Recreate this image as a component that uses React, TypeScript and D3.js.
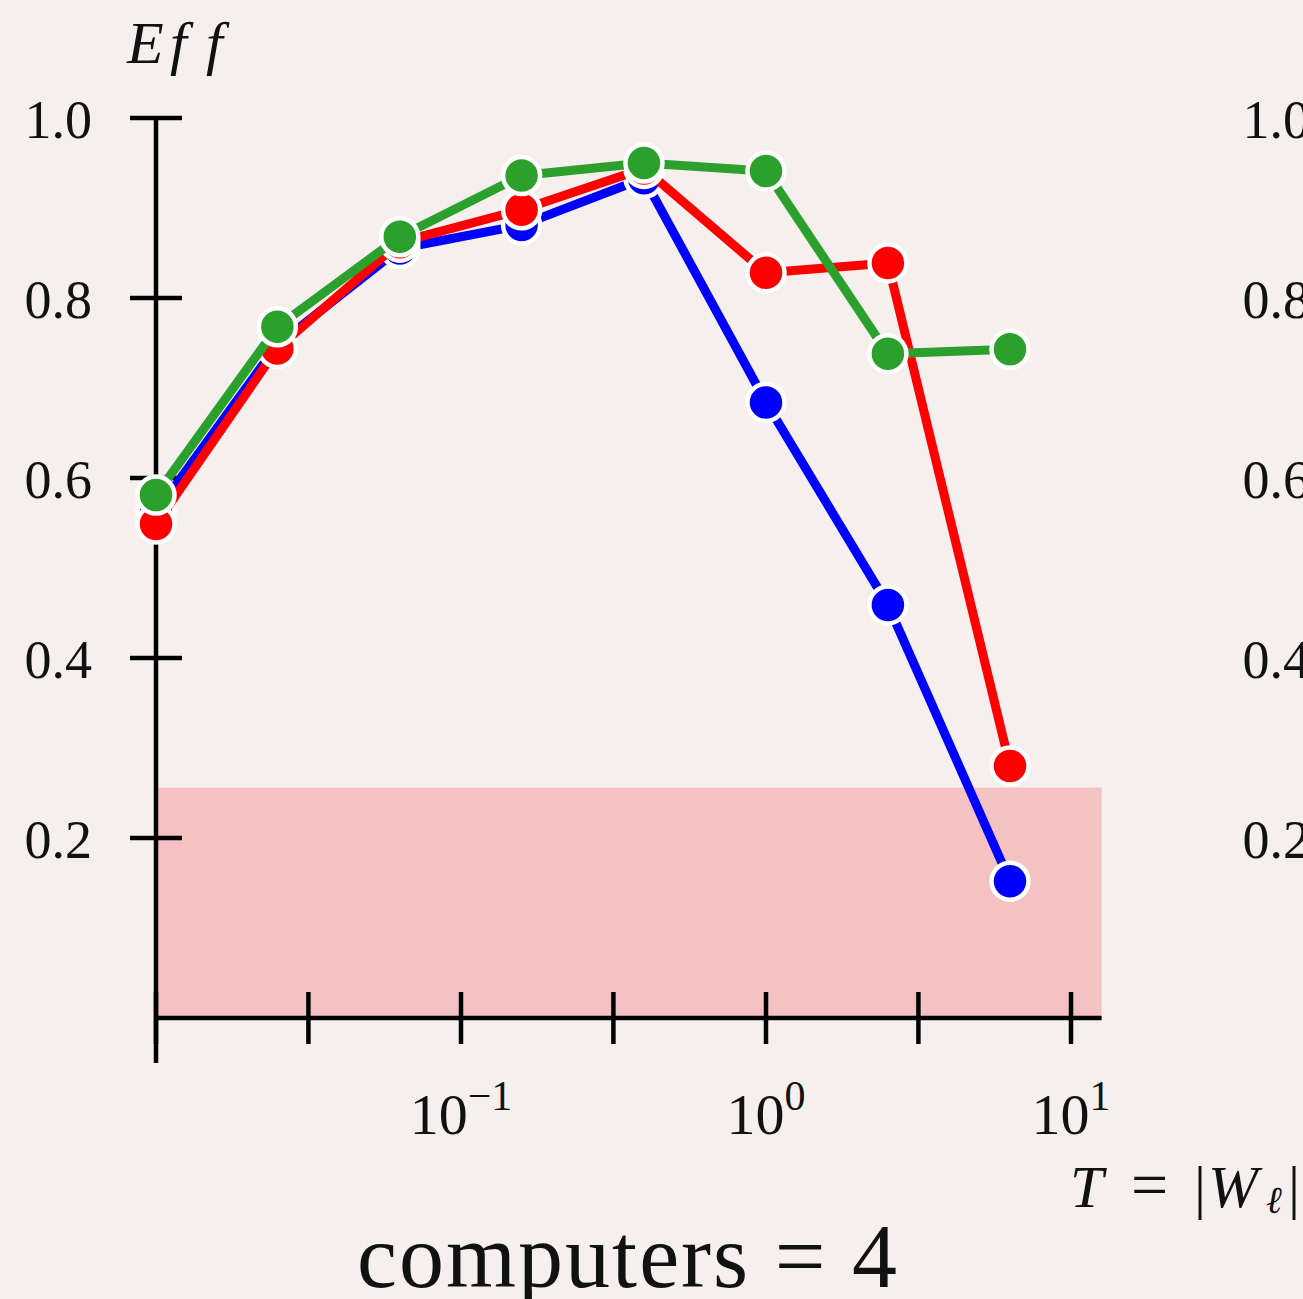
import React from "react";
import * as d3 from "d3";

// ---- data ----
const tValues = [0.01, 0.025, 0.063, 0.158, 0.398, 1, 2.51, 6.31];
const effBlue = [0.562, 0.748, 0.855, 0.881, 0.933, 0.684, 0.459, 0.152];
const effRed = [0.549, 0.744, 0.862, 0.898, 0.944, 0.828, 0.839, 0.28];
const effGreen = [0.581, 0.768, 0.868, 0.936, 0.95, 0.941, 0.738, 0.743];
const seriesColors = ["#0000ff", "#ff0000", "#2ca02c"];
const yTicks = [0.2, 0.4, 0.6, 0.8, 1.0];
const yTickLabels = ["0.2", "0.4", "0.6", "0.8", "1.0"];
const xTicks = [0.01, 0.0316, 0.1, 0.316, 1, 3.16, 10];
const xLabelValues = [0.1, 1, 10];
const xLabelExps = ["−1", "0", "1"];
const xLimit = [0.01, 12.6];
const yLimit = [-0.05, 1.0];
const shadeMax = 0.256;
const panelTitle = "computers = 4";

const W = 1303;
const H = 1299;
const FONT = "'Liberation Serif', 'DejaVu Serif', serif";

export default function App() {
  const x = d3.scaleLog().domain([0.01, 10]).range([156, 1071]);
  const y = d3.scaleLinear().domain([0, 1]).range([1018, 118]);
  const series = [effBlue, effRed, effGreen];
  const line = d3
    .line<number>()
    .x((_, i) => x(tValues[i]))
    .y((d) => y(d));

  const axisW = 4.5;
  return (
    <svg
      width={W}
      height={H}
      style={{ position: "absolute", left: 0, top: 0, overflow: "hidden" }}
      fontFamily={FONT}
    >
      <rect x={0} y={0} width={W} height={H} fill="#f5f0ee" />
      {/* shaded region */}
      <rect
        x={x(xLimit[0])}
        y={y(shadeMax)}
        width={x(xLimit[1]) - x(xLimit[0])}
        height={y(0) - y(shadeMax)}
        fill="#f4c2c3"
      />
      {/* y axis */}
      <line x1={x(xLimit[0])} x2={x(xLimit[0])} y1={y(yLimit[1])} y2={y(yLimit[0])} stroke="#000" strokeWidth={axisW} />
      {yTicks.map((t, i) => (
        <g key={"yt" + i}>
          <line x1={x(xLimit[0]) - 26} x2={x(xLimit[0]) + 26} y1={y(t)} y2={y(t)} stroke="#000" strokeWidth={axisW} />
          <text x={92} y={y(t)} dy="0.37em" textAnchor="end" fontSize={54} fill="#111">
            {yTickLabels[i]}
          </text>
          <text x={1310} y={y(t)} dy="0.37em" textAnchor="end" fontSize={54} fill="#111">
            {yTickLabels[i]}
          </text>
        </g>
      ))}
      {/* x axis */}
      <line x1={x(xLimit[0])} x2={x(xLimit[1])} y1={y(0)} y2={y(0)} stroke="#000" strokeWidth={axisW} />
      {xTicks.map((t, i) => (
        <line key={"xt" + i} x1={x(t)} x2={x(t)} y1={y(0) - 26} y2={y(0) + 26} stroke="#000" strokeWidth={axisW} />
      ))}
      {xLabelValues.map((v, i) => (
        <text key={"xl" + i} x={x(v)} y={1134} textAnchor="middle" fontSize={58} fill="#111">
          10
          <tspan fontSize={42} dy={-24}>
            {xLabelExps[i]}
          </tspan>
        </text>
      ))}
      {/* series */}
      {series.map((s, si) => (
        <g key={"s" + si}>
          <path d={line(s) || ""} fill="none" stroke={seriesColors[si]} strokeWidth={9} strokeLinejoin="round" />
          {s.map((v, i) => (
            <circle key={i} cx={x(tValues[i])} cy={y(v)} r={18.5} fill={seriesColors[si]} stroke="#fff" strokeWidth={4.5} />
          ))}
        </g>
      ))}
      {/* y label */}
      <text y={63} fontSize={60} fontStyle="italic" fill="#111">
        <tspan x={127}>E</tspan>
        <tspan x={170}>f</tspan>
        <tspan x={206}>f</tspan>
      </text>
      {/* x label (cut off at right edge, as in the reference) */}
      <text y={1207} fontSize={60} fill="#111">
        <tspan x={1070} fontStyle="italic">T</tspan>
        <tspan x={1131} fontSize={66}>=</tspan>
        <tspan x={1194}>|</tspan>
        <tspan x={1208} fontStyle="italic">W</tspan>
        <tspan x={1266} fontSize={38} dy={6} fontStyle="italic">ℓ</tspan>
        <tspan x={1288} dy={-6}>|</tspan>
      </text>
      {/* title */}
      <text x={627} y={1287} textAnchor="middle" fontSize={90} fill="#111" textLength={540} lengthAdjust="spacing">
        {panelTitle}
      </text>
    </svg>
  );
}
